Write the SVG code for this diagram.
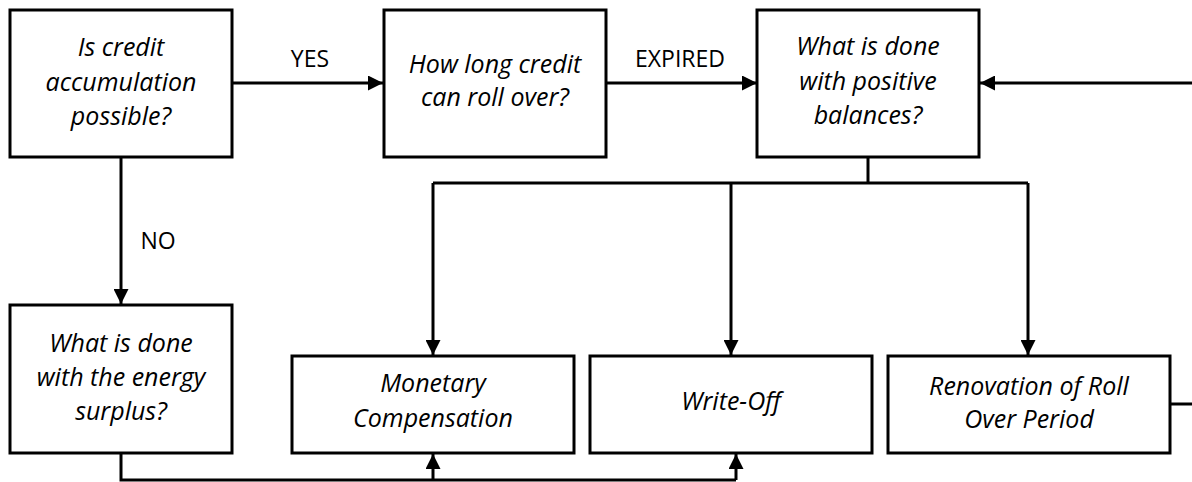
<svg xmlns="http://www.w3.org/2000/svg" width="1192" height="482" viewBox="0 0 1192 482">
<style>
.box{fill:#fff;stroke:#000;stroke-width:3}
.t{font-family:"Open Sans",sans-serif;font-style:italic;font-size:25px;fill:#000;text-anchor:middle}
.lbl{font-family:"Open Sans",sans-serif;font-size:23px;fill:#000;text-anchor:middle}
.c{fill:none;stroke:#000;stroke-width:3}
</style>
<defs>
<marker id="ah" markerWidth="15" markerHeight="15" viewBox="0 0 15 15" refX="15" refY="7.5" orient="auto" markerUnits="userSpaceOnUse">
<path d="M0,0 L15,7.5 L0,15 Z" fill="#000"/>
</marker>
</defs>
<g id="connectors">
<path class="c" d="M232,83 H383" marker-end="url(#ah)"/>
<path class="c" d="M606,83 H757" marker-end="url(#ah)"/>
<path class="c" d="M1192,83 H980" marker-end="url(#ah)"/>
<path class="c" d="M1170,404 H1192"/>
<path class="c" d="M121,157 V304" marker-end="url(#ah)"/>
<path class="c" d="M868,157 V183"/>
<path class="c" d="M433,183 H1028"/>
<path class="c" d="M433,183 V355" marker-end="url(#ah)"/>
<path class="c" d="M731,183 V355" marker-end="url(#ah)"/>
<path class="c" d="M1028,183 V355" marker-end="url(#ah)"/>
<path class="c" d="M121,453 V480 H736"/>
<path class="c" d="M433,480 V454" marker-end="url(#ah)"/>
<path class="c" d="M736,480 V454" marker-end="url(#ah)"/>
<text class="lbl" x="310" y="67">YES</text>
<text class="lbl" x="680" y="67">EXPIRED</text>
<text class="lbl" x="158" y="249">NO</text>
</g>
<g id="n1">
<rect class="box" x="10" y="10" width="222" height="147"/>
<text class="t" x="121" y="56">Is credit</text>
<text class="t" x="121" y="91">accumulation</text>
<text class="t" x="121" y="125">possible?</text>
</g>
<g id="n2">
<rect class="box" x="384" y="10" width="222" height="147"/>
<text class="t" x="495" y="73">How long credit</text>
<text class="t" x="495" y="106">can roll over?</text>
</g>
<g id="n3">
<rect class="box" x="757" y="10" width="222" height="147"/>
<text class="t" x="868" y="55">What is done</text>
<text class="t" x="868" y="90">with positive</text>
<text class="t" x="868" y="124">balances?</text>
</g>
<g id="n4">
<rect class="box" x="10" y="305" width="222" height="148"/>
<text class="t" x="121" y="352">What is done</text>
<text class="t" x="121" y="386">with the energy</text>
<text class="t" x="121" y="420">surplus?</text>
</g>
<g id="n5">
<rect class="box" x="292" y="356" width="282" height="97"/>
<text class="t" x="433" y="392">Monetary</text>
<text class="t" x="433" y="427">Compensation</text>
</g>
<g id="n6">
<rect class="box" x="590" y="356" width="282" height="97"/>
<text class="t" x="731" y="410">Write-Off</text>
</g>
<g id="n7">
<rect class="box" x="888" y="356" width="282" height="97"/>
<text class="t" x="1029" y="395">Renovation of Roll</text>
<text class="t" x="1029" y="428">Over Period</text>
</g>
</svg>
